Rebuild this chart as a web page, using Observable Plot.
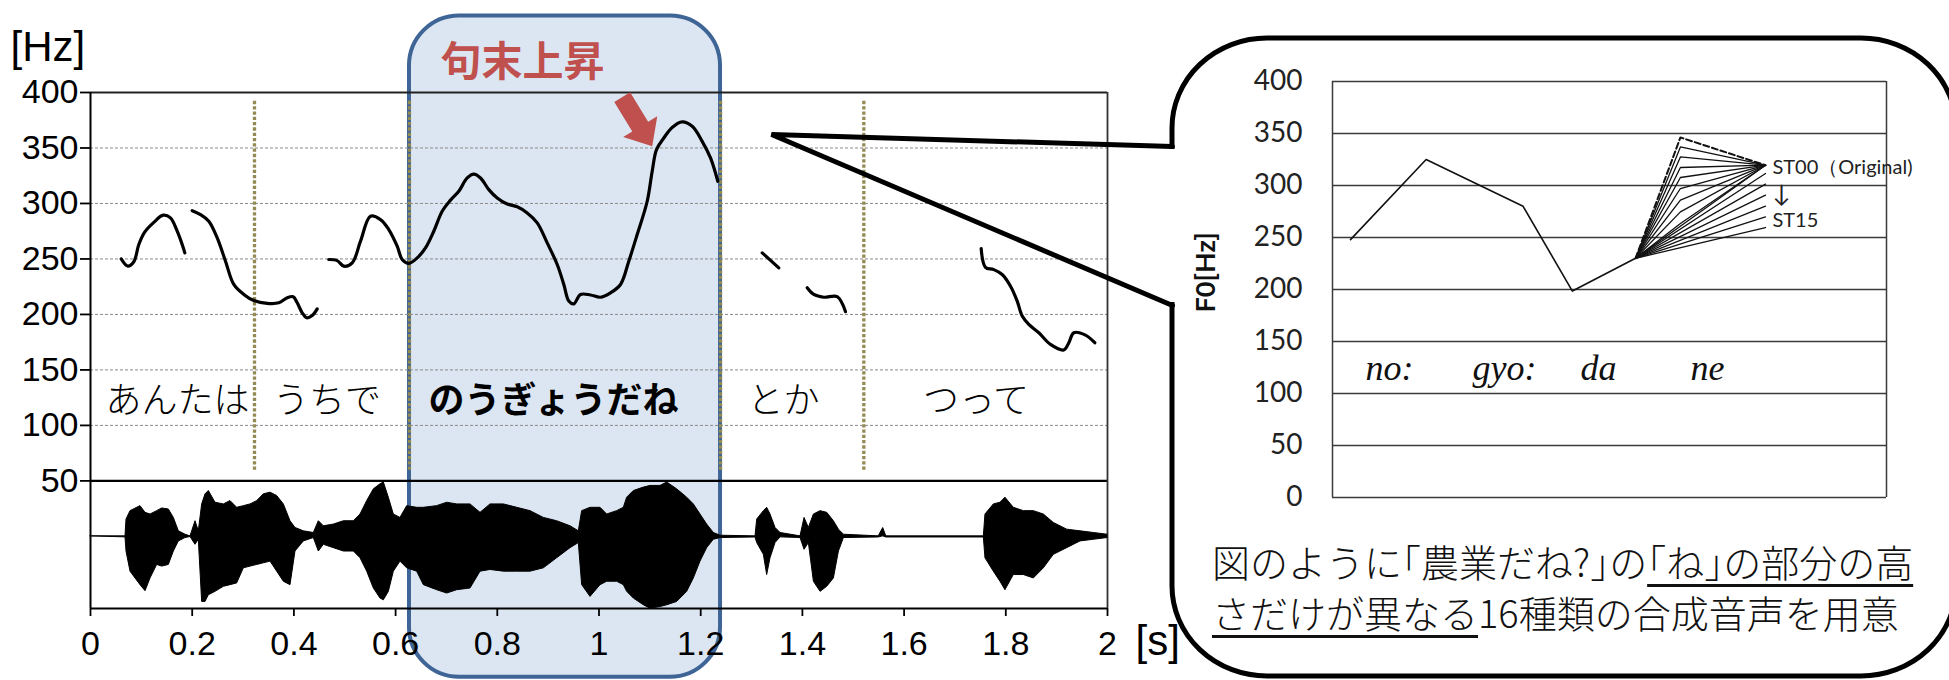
<!DOCTYPE html>
<html><head><meta charset="utf-8">
<script src="https://cdn.jsdelivr.net/npm/d3@7"></script>
<script src="https://cdn.jsdelivr.net/npm/@observablehq/plot@0.6"></script>
<style>
html,body{margin:0;padding:0;background:#fff;}
#page{position:relative;width:1949px;height:680px;overflow:hidden;background:#fff;}
.layer{position:absolute;top:0;}
.layer svg{overflow:visible;background:transparent;}
#caption{position:absolute;left:1212px;top:535px;font-family:"Noto Sans CJK JP",sans-serif;font-weight:300;font-size:38px;line-height:51px;white-space:nowrap;font-feature-settings:"halt";color:#111;}
#caption u{text-decoration-thickness:2.5px;text-underline-offset:7px;}
</style></head>
<body><div id="page">
<div id="main" class="layer" style="left:0"></div>
<div id="callout" class="layer" style="left:0"></div>
<div id="inset" class="layer" style="left:1180px"></div>
<div id="caption"><div>図のように「農業だね?」の<u>「ね」の部分の高</u></div><div><u>さだけが異なる</u>16種類の合成音声を用意</div></div>
</div>
<script>
// ---------- main chart data: F0 contour segments [time s, F0 Hz] ----------
const f0Anta1 = [[0.0604,250],[0.0734,243.5],[0.0852,247.5],[0.095,263],[0.1062,274],[0.1245,283],[0.143,289.5],[0.1573,287],[0.1705,275],[0.1803,263],[0.1855,255.5]];
const f0Anta2 = [[0.2,293.5],[0.2163,290],[0.2326,284],[0.2492,269],[0.2655,248],[0.2818,227],[0.3015,218],[0.3211,212.5],[0.3475,210],[0.3703,210.5],[0.3868,215],[0.3986,216],[0.4065,210.5],[0.4163,201.5],[0.4248,197],[0.436,199],[0.4458,205]];
const f0UchiNougyou = [[0.4686,249.5],[0.4851,248.5],[0.4981,243.5],[0.5147,246.5],[0.531,266],[0.5506,288.5],[0.5703,285.5],[0.5866,276.5],[0.6031,261.5],[0.613,249.5],[0.626,246],[0.6425,251],[0.6588,260],[0.6751,275],[0.6916,293],[0.708,303],[0.7243,311],[0.7408,323],[0.7538,326.5],[0.767,323],[0.7833,312.5],[0.7998,305],[0.8195,299.5],[0.8391,297],[0.8588,291.5],[0.8785,282.5],[0.8981,264.5],[0.9178,245],[0.9308,227],[0.9406,212],[0.9504,209.5],[0.9636,218],[0.9833,217.5],[1.003,215.5],[1.0226,219.5],[1.0423,227],[1.0586,248],[1.0751,272],[1.0948,302],[1.1046,329],[1.1131,348.5],[1.1274,359],[1.1439,368.5],[1.1636,373.5],[1.1833,369.5],[1.2029,356],[1.2193,341],[1.2336,320]];
const f0To = [[1.321,255.5],[1.3536,242]];
const f0Ka = [[1.4094,224],[1.4224,218],[1.4421,215.5],[1.4684,216],[1.4848,202.5]];
const f0Tsutte = [[1.7516,259.3],[1.76,242.5],[1.7764,240.4],[1.7929,236],[1.8093,225.4],[1.8224,212],[1.8323,198.5],[1.8452,191],[1.865,183.5],[1.8879,173],[1.914,168],[1.924,174.5],[1.9338,183.5],[1.9567,181.4],[1.975,174.5]];
const f0Segments = [f0Anta1, f0Anta2, f0UchiNougyou, f0To, f0Ka, f0Tsutte];

// waveform envelope [time s, upper amplitude, lower amplitude] (normalized)
const waveEnvelope = [[0,0,0],[0.0688,0,-0.018],[0.0708,0.303,-0.273],[0.0787,0.455,-0.636],[0.0983,0.545,-0.879],[0.1082,0.424,-0.988],[0.118,0.394,-0.758],[0.1311,0.455,-0.515],[0.1409,0.503,-0.545],[0.154,0.485,-0.515],[0.1639,0.333,-0.273],[0.1737,0.091,-0.091],[0.1868,0.03,-0.03],[0.1967,0,-0.012],[0.2065,0.273,-0.152],[0.213,0.091,-0.061],[0.2196,0.576,-1.182],[0.2262,0.758,-1.182],[0.2327,0.818,-1.061],[0.2458,0.606,-1.0],[0.2622,0.576,-0.909],[0.2753,0.636,-0.879],[0.2884,0.515,-0.848],[0.3015,0.545,-0.576],[0.3147,0.576,-0.545],[0.3278,0.636,-0.515],[0.3409,0.758,-0.485],[0.354,0.788,-0.455],[0.3671,0.727,-0.636],[0.3802,0.576,-0.818],[0.3933,0.273,-0.879],[0.4031,0.152,-0.273],[0.4195,0.091,-0.091],[0.4392,0.061,-0.03],[0.449,0.273,-0.273],[0.4589,0.182,-0.152],[0.4785,0.212,-0.212],[0.4982,0.273,-0.273],[0.5179,0.273,-0.273],[0.531,0.394,-0.394],[0.5441,0.636,-0.636],[0.5572,0.848,-0.939],[0.5703,0.939,-1.121],[0.5769,0.97,-1.152],[0.5867,0.697,-1.0],[0.5965,0.394,-0.636],[0.6096,0.333,-0.455],[0.6227,0.545,-0.576],[0.6424,0.515,-0.636],[0.6555,0.515,-0.879],[0.6817,0.545,-0.97],[0.7014,0.606,-1.03],[0.7211,0.576,-0.97],[0.7473,0.576,-0.939],[0.767,0.424,-0.636],[0.7866,0.576,-0.606],[0.8129,0.576,-0.636],[0.8391,0.515,-0.636],[0.8653,0.455,-0.636],[0.8915,0.333,-0.576],[0.9177,0.273,-0.394],[0.944,0.182,-0.212],[0.9603,0.091,-0.121],[0.9669,0.455,-0.879],[0.9833,0.515,-1.091],[1.003,0.515,-0.879],[1.0161,0.394,-0.818],[1.0357,0.455,-0.818],[1.0488,0.515,-0.879],[1.0554,0.697,-1.0],[1.0685,0.818,-1.121],[1.0882,0.879,-1.242],[1.1012,0.909,-1.303],[1.1209,0.909,-1.273],[1.1341,0.97,-1.242],[1.1537,0.848,-1.182],[1.1734,0.697,-1.0],[1.1865,0.576,-0.758],[1.1996,0.394,-0.455],[1.2127,0.212,-0.212],[1.2258,0.061,-0.061],[1.2389,0.012,-0.03],[1.3078,0,-0.02],[1.3111,0.303,-0.121],[1.3242,0.455,-0.333],[1.3307,0.515,-0.697],[1.3373,0.394,-0.394],[1.3471,0.152,-0.121],[1.357,0.061,-0.018],[1.3963,0,-0.03],[1.4042,0.333,-0.242],[1.4127,0.152,-0.121],[1.4226,0.394,-0.818],[1.4357,0.455,-1.0],[1.4488,0.424,-0.909],[1.4619,0.273,-0.758],[1.4718,0.121,-0.273],[1.4816,0.03,-0.03],[1.55,0,-0.02],[1.5589,0.15,0],[1.565,0,-0.02],[1.7568,0,-0.02],[1.76,0.394,-0.394],[1.7764,0.576,-0.636],[1.7895,0.606,-0.818],[1.7993,0.697,-0.97],[1.8157,0.515,-0.697],[1.8354,0.455,-0.697],[1.8551,0.455,-0.758],[1.8748,0.394,-0.576],[1.8944,0.242,-0.333],[1.9207,0.121,-0.212],[1.9469,0.091,-0.091],[1.9731,0.061,-0.061],[2.0,0.03,-0.03]];

const yTicksHz = [50, 100, 150, 200, 250, 300, 350, 400];
const gridHz = [100, 150, 200, 250, 300, 350];
const timeTicks = [0, 0.2, 0.4, 0.6, 0.8, 1, 1.2, 1.4, 1.6, 1.8, 2];
const phraseBoundaries = [0.3225, 0.6273, 1.239, 1.5208];
const moraLabels = ["あんたは", "うちで", "のうぎょうだね", "とか", "つって"];
const moraCenters = [0.171, 0.465, 0.9105, 1.3628, 1.7414];
const moraBold = [false, false, true, false, false];
const highlightSpan = [0.6273, 1.239];
const annotationText = "句末上昇";

// ---------- inset data ----------
const insetTicks = [0, 50, 100, 150, 200, 250, 300, 350, 400];
const insetContourX = [0.0325, 0.169, 0.344, 0.433, 0.547];
const insetContourHz = [248, 325, 280, 198.5, 230];
const fanX = [0.547, 0.628, 0.7816];
const fanStartHz = 230;
const stimulusMidHz = [346.2, 337.1, 327.5, 317.3, 307.7, 297.1, 285.9, 274.6, 263.5, null, null, null, null, null, null, null];
const stimulusEndHz = [319.5, 319.5, 319.5, 319.5, 319.5, 319.5, 319.5, 319.5, 319.5, 319.5, 311.5, 301.3, 290.7, 280.1, 269.8, 259.6];
const syllables = ["no:", "gyo:", "da", "ne"];
const syllableX = [0.0596, 0.2527, 0.4477, 0.646];
const stimulusLabels = ["ST00（Original)", "↓", "ST15"];

// ---------- layout constants ----------
const waveUnit = 50;          // amplitude 1 drawn at height of 50 on the Hz scale
const moraLabelHz = 121.5;
const boundarySpan = [59.5, 393];
const highlightHz = [-127, 469];
const annotationPos = [0.8496, 427];
const arrowPos = [1.0456, 395.8];
const syllableHz = 124;
const stimulusLabelPos = [[0.794, 317.6], [0.8105, 292], [0.794, 266.3]];

const f0Rows = f0Segments.flatMap((seg, i) => seg.map(([t, hz]) => ({seg: i, t, hz})));
const moraRows = moraLabels.map((label, i) => ({label, t: moraCenters[i], bold: moraBold[i]}));
const jp = "'Noto Sans CJK JP', sans-serif";

const blockArrow = {
  draw(ctx, l) {
    const hw = 9.3, headW = 20, headL = 23;
    ctx.moveTo(-hw, 0); ctx.lineTo(-hw, -(l - headL)); ctx.lineTo(-headW, -(l - headL));
    ctx.lineTo(0, -l); ctx.lineTo(headW, -(l - headL)); ctx.lineTo(hw, -(l - headL));
    ctx.lineTo(hw, 0); ctx.closePath();
  }
};

const main = Plot.plot({
  width: 1200, height: 680, marginLeft: 90, marginRight: 93, marginTop: 92, marginBottom: 72,
  style: {background: "transparent", overflow: "visible", fontFamily: "'Liberation Sans', Arial, sans-serif"},
  x: {domain: [0, 2], axis: null},
  y: {domain: [-65, 400], axis: null},
  marks: [
    Plot.rect([highlightSpan], {x1: d => d[0], x2: d => d[1], y1: highlightHz[0], y2: highlightHz[1], fill: "#DCE6F2", stroke: "#3E6596", strokeWidth: 4, rx: 50, ry: 50}),
    Plot.ruleY(gridHz, {stroke: "#8a8a8a", strokeWidth: 1, strokeDasharray: "3,2"}),
    Plot.ruleY([400], {stroke: "#222", strokeWidth: 1.8}),
    Plot.ruleY([50], {stroke: "#000", strokeWidth: 2.4}),
    Plot.ruleY([-65], {stroke: "#000", strokeWidth: 2}),
    Plot.ruleX([0], {y1: -65, y2: 400, stroke: "#000", strokeWidth: 2}),
    Plot.ruleX([2], {y1: -65, y2: 400, stroke: "#333", strokeWidth: 1.8}),
    Plot.axisY({ticks: yTicksHz, tickSize: 10, tickPadding: 2, fontSize: 34, label: null, strokeWidth: 1.8}),
    Plot.axisX({ticks: timeTicks, tickSize: 8, tickPadding: 14, fontSize: 34, label: null, strokeWidth: 1.8, tickFormat: d => String(+d.toFixed(1))}),
    Plot.ruleX(phraseBoundaries, {y1: boundarySpan[0], y2: boundarySpan[1], stroke: "#948A54", strokeWidth: 3.3, strokeDasharray: "3.3,2"}),
    Plot.areaY(waveEnvelope, {x: d => d[0], y1: d => d[2] * waveUnit, y2: d => d[1] * waveUnit, fill: "#000", stroke: "#000", strokeWidth: 1}),
    Plot.line(f0Rows, {x: "t", y: "hz", z: "seg", stroke: "#000", strokeWidth: 3.2, curve: "catmull-rom", strokeLinejoin: "round", strokeLinecap: "round"}),
    Plot.text(moraRows.filter(d => !d.bold), {x: "t", y: () => moraLabelHz, text: "label", fontSize: 36, fontFamily: jp, fontWeight: 300}),
    Plot.text(moraRows.filter(d => d.bold), {x: "t", y: () => moraLabelHz, text: "label", fontSize: 36, fontFamily: jp, fontWeight: "bold"}),
    Plot.text([annotationText], {x: () => annotationPos[0], y: () => annotationPos[1], text: d => d, fontSize: 41, fontFamily: jp, fontWeight: "bold", fill: "#C0504D"}),
    Plot.vector([arrowPos], {x: d => d[0], y: d => d[1], length: 57.5, rotate: 148.5, anchor: "start", shape: blockArrow, fill: "#C0504D", stroke: "none"}),
    Plot.text(["[Hz]"], {frameAnchor: "top-left", lineAnchor: "middle", text: d => d, textAnchor: "start", dx: -80, dy: -45, fontSize: 42}),
    Plot.text(["[s]"], {frameAnchor: "bottom-right", lineAnchor: "middle", text: d => d, textAnchor: "start", dx: 28, dy: 33, fontSize: 42})
  ]
});
document.getElementById("main").append(main);

// callout bubble (page pixel layout)
const calloutBox = {x1: 1172, x2: 1956, y1: 38, y2: 676};
const calloutTail = [[1172, 146], [771, 134], [1172, 305]];
const callout = Plot.plot({
  width: 1949, height: 680, margin: 0,
  style: {background: "transparent", overflow: "visible"},
  x: {type: "identity", axis: null}, y: {type: "identity", axis: null},
  marks: [
    Plot.rect([calloutBox], {x1: "x1", x2: "x2", y1: "y1", y2: "y2", rx: 95, ry: 90, fill: "none", stroke: "#000", strokeWidth: 5}),
    Plot.ruleX([calloutBox.x1], {y1: () => calloutTail[0][1] + 3, y2: () => calloutTail[2][1] - 3, stroke: "#fff", strokeWidth: 9}),
    Plot.line(calloutTail, {x: d => d[0], y: d => d[1], stroke: "#000", strokeWidth: 5, strokeLinejoin: "miter"})
  ]
});
document.getElementById("callout").append(callout);

// inset chart
const contourRows = insetContourX.map((x, i) => ({x, hz: insetContourHz[i]}));
const stimRows = stimulusEndHz.flatMap((end, k) => {
  const pts = [{st: k, x: fanX[0], hz: fanStartHz}];
  if (stimulusMidHz[k] != null) pts.push({st: k, x: fanX[1], hz: stimulusMidHz[k]});
  pts.push({st: k, x: fanX[2], hz: end});
  return pts;
});
const syllableRows = syllables.map((s, i) => ({s, x: syllableX[i]}));
const stLabelRows = stimulusLabels.map((s, i) => ({s, x: stimulusLabelPos[i][0], hz: stimulusLabelPos[i][1], anchor: s === "↓" ? "middle" : "start"}));

const inset = Plot.plot({
  width: 769, height: 680, marginLeft: 152, marginRight: 63, marginTop: 81, marginBottom: 183,
  style: {background: "transparent", overflow: "visible", fontFamily: "Lato, 'Open Sans', sans-serif"},
  x: {domain: [0, 1], axis: null},
  y: {domain: [0, 400], axis: null},
  marks: [
    Plot.ruleY(insetTicks, {stroke: "#3a3a3a", strokeWidth: 1.5}),
    Plot.ruleX([0, 1], {stroke: "#3a3a3a", strokeWidth: 1.5}),
    Plot.axisY({ticks: insetTicks, tickSize: 0, tickPadding: 30, fontSize: 28, label: null, fill: "#222"}),
    Plot.text(["F0[Hz]"], {frameAnchor: "left", lineAnchor: "middle", text: d => d, dx: -126, dy: 23, rotate: -90, fontWeight: "bold", fontSize: 27, fill: "#111"}),
    Plot.line(contourRows, {x: "x", y: "hz", stroke: "#111", strokeWidth: 1.6}),
    Plot.line(stimRows.filter(d => d.st > 0), {x: "x", y: "hz", z: "st", stroke: "#111", strokeWidth: 1.3}),
    Plot.line(stimRows.filter(d => d.st === 0), {x: "x", y: "hz", stroke: "#111", strokeWidth: 2, strokeDasharray: "6,3"}),
    Plot.text(syllableRows, {x: "x", y: () => syllableHz, text: "s", textAnchor: "start", fontFamily: "'Liberation Serif', serif", fontStyle: "italic", fontSize: 36, fill: "#111"}),
    Plot.text(stLabelRows.filter(d => d.anchor === "start"), {x: "x", y: "hz", text: "s", textAnchor: "start", fontSize: 20, fill: "#222"}),
    Plot.text(stLabelRows.filter(d => d.anchor === "middle"), {x: "x", y: "hz", text: "s", fontSize: 24, fill: "#222"})
  ]
});
document.getElementById("inset").append(inset);
</script>
</body></html>
